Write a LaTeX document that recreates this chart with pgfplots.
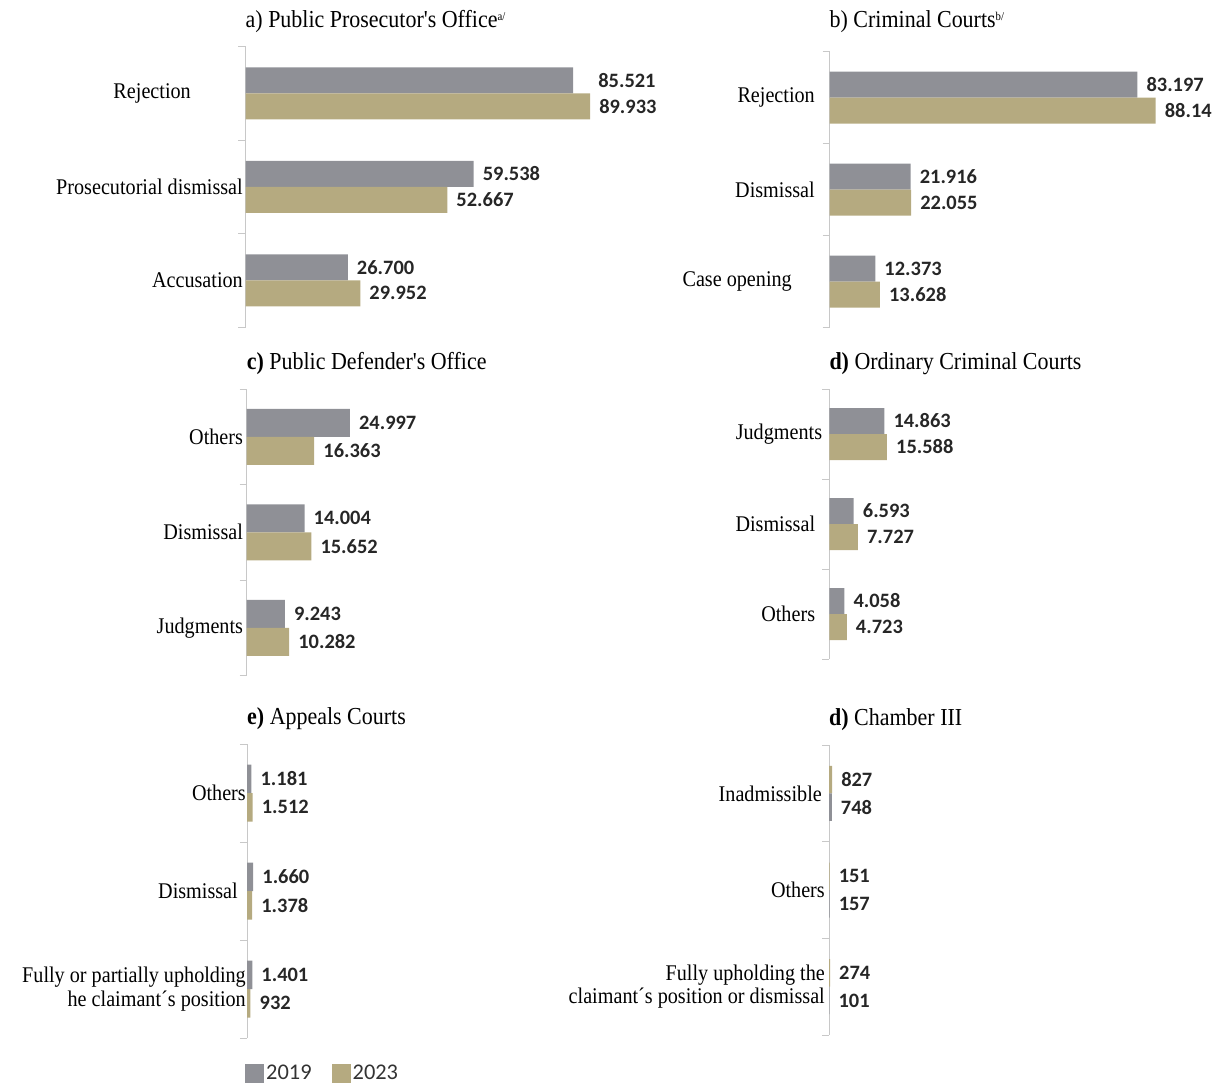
\documentclass[border=0pt]{standalone}
\usepackage{fontspec}
\setmainfont{Liberation Serif}
\newfontfamily\labfont{Liberation Serif}[FakeStretch=0.9]
\newfontfamily\numfont{Carlito}
\usepackage{pgfplots}
\pgfplotsset{compat=1.18}
\definecolor{cA}{RGB}{143,144,150}
\definecolor{cB}{RGB}{181,170,128}
\definecolor{axgray}{RGB}{200,200,200}
\newcommand{\sups}[1]{\raisebox{7bp}{\fontsize{12}{12}\selectfont #1}}
\newcommand{\pad}{\hspace*{16bp}}
\pgfplotsset{
  panel/.style={
    scale only axis, xbar, xmin=0, ymin=-0.5, ymax=2.5, y dir=reverse,
    axis x line=none, axis y line*=left,
    axis line style={axgray, line width=1bp},
    ytick={0,1,2}, minor ytick={-0.5,0.5,1.5,2.5},
    major tick length=0pt, minor tick length=7bp,
    tick align=outside,
    minor tick style={axgray, line width=1bp},
    major tick style={draw=none},
    yticklabel style={font=\labfont\fontsize{22.5}{23.5}\selectfont, align=right, inner sep=0pt, anchor=east},
    point meta=explicit symbolic,
    nodes near coords={\pgfplotspointmeta},
    nodes near coords style={font=\numfont\bfseries\fontsize{20.5}{21}\selectfont, anchor=west, inner sep=0pt, xshift=9bp, text=black!85},
    title style={font=\labfont\fontsize{24.5}{25}\selectfont, anchor=south west, at={(0,1)}, inner sep=0pt, yshift=8bp},
    clip=false,
  },
  sA/.style={fill=cA, draw=none, bar width=#1, bar shift=#1/2},
  sB/.style={fill=cB, draw=none, bar width=#1, bar shift=-#1/2},
}
\begin{document}
\begin{tikzpicture}
\path[use as bounding box] (0,0) rectangle (1222bp,-1084bp);

% a)
\begin{axis}[panel, at={(245.5bp,-46.5bp)}, anchor=north west,
  width=400bp, height=280.5bp, xmax=104.4,
  title={a) Public Prosecutor's Office\sups{a/}},
  yticklabels={{Rejection\hspace{52bp}}, Prosecutorial dismissal, Accusation},
  yticklabel style={xshift=-2.5bp}]
\addplot[sA=26bp] table[x=x, y=y, meta=l] {
x y l
85.521 0 \pad85.521
59.538 1 59.538
26.700 2 26.700
};
\addplot[sB=26bp] table[x=x, y=y, meta=l] {
x y l
89.933 0 89.933
52.667 1 52.667
29.952 2 29.952
};
\end{axis}

% b)
\begin{axis}[panel, at={(829.5bp,-51.5bp)}, anchor=north west,
  width=380bp, height=276bp, xmax=102.7,
  title={b) Criminal Courts\sups{b/}}, title style={yshift=5bp},
  yticklabels={Rejection, Dismissal, {Case opening\hspace{23bp}}},
  yticklabel style={xshift=-14.5bp}]
\addplot[sA=26bp] table[x=x, y=y, meta=l] {
x y l
83.197 0 83.197
21.916 1 21.916
12.373 2 12.373
};
\addplot[sB=26bp] table[x=x, y=y, meta=l] {
x y l
88.14 0 88.14
22.055 1 22.055
13.628 2 13.628
};
\end{axis}

% c)
\begin{axis}[panel, at={(246.7bp,-389bp)}, anchor=north west,
  width=400bp, height=286.5bp, xmax=96.9,
  title={\textbf{c)} Public Defender's Office},
  yticklabels={Others, Dismissal, Judgments},
  yticklabel style={xshift=-3.5bp}]
\addplot[sA=28bp] table[x=x, y=y, meta=l] {
x y l
24.997 0 24.997
14.004 1 14.004
9.243 2 9.243
};
\addplot[sB=28bp] table[x=x, y=y, meta=l] {
x y l
16.363 0 16.363
15.652 1 15.652
10.282 2 10.282
};
\end{axis}

% d)
\begin{axis}[panel, at={(829.3bp,-389bp)}, anchor=north west,
  width=380bp, height=270bp, xmax=102.7,
  title={\textbf{d)} Ordinary Criminal Courts},
  yticklabels={Judgments, {Dismissal\hspace{7bp}}, {Others\hspace{7bp}}},
  yticklabel style={xshift=-7bp}]
\addplot[sA=26bp] table[x=x, y=y, meta=l] {
x y l
14.863 0 14.863
6.593 1 6.593
4.058 2 4.058
};
\addplot[sB=26bp] table[x=x, y=y, meta=l] {
x y l
15.588 0 15.588
7.727 1 7.727
4.723 2 4.723
};
\end{axis}

% e)
\begin{axis}[panel, at={(247bp,-744bp)}, anchor=north west,
  width=400bp, height=294bp, xmax=106.7,
  title={\textbf{e)} Appeals Courts},
  yticklabels={Others, {Dismissal\hspace{8bp}}, {Fully or partially upholding\hspace{10bp}\\he claimant´s position\hspace{10bp}}},
  yticklabel style={xshift=-1bp},
  legend columns=2,
  legend style={at={(0,0)}, anchor=north west, draw=none, fill=none, xshift=-2bp, yshift=-25bp,
    inner sep=0pt, font=\numfont\fontsize{22.5}{23}\selectfont, text=black!80,
    /tikz/every even column/.append style={column sep=18bp},
    nodes={inner sep=2bp}},
  legend image code/.code={\fill[#1] (0bp,-9.5bp) rectangle (19bp,9.5bp);}]
\addplot[sA=28.5bp] table[x=x, y=y, meta=l] {
x y l
1.181 0 1.181
1.660 1 1.660
1.401 2 1.401
};
\addplot[sB=28.5bp] table[x=x, y=y, meta=l] {
x y l
1.512 0 1.512
1.378 1 1.378
0.932 2 932
};
\legend{2019, 2023}
\end{axis}

% f)
\begin{axis}[panel, at={(829bp,-745bp)}, anchor=north west,
  width=380bp, height=290bp, xmax=102.7,
  title={\textbf{d)} Chamber III},
  yticklabels={{Inadmissible\hspace{3bp}}, Others, {Fully upholding the\hspace{8bp}\\claimant´s position or dismissal\hspace{8bp}}},
  yticklabel style={xshift=-4bp}]
\addplot[sA=27.5bp, fill=cB] table[x=x, y=y, meta=l] {
x y l
0.827 0 827
0.151 1 151
0.274 2 274
};
\addplot[sB=27.5bp, fill=cA] table[x=x, y=y, meta=l] {
x y l
0.748 0 748
0.157 1 157
0.101 2 101
};
\end{axis}
\end{tikzpicture}
\end{document}
